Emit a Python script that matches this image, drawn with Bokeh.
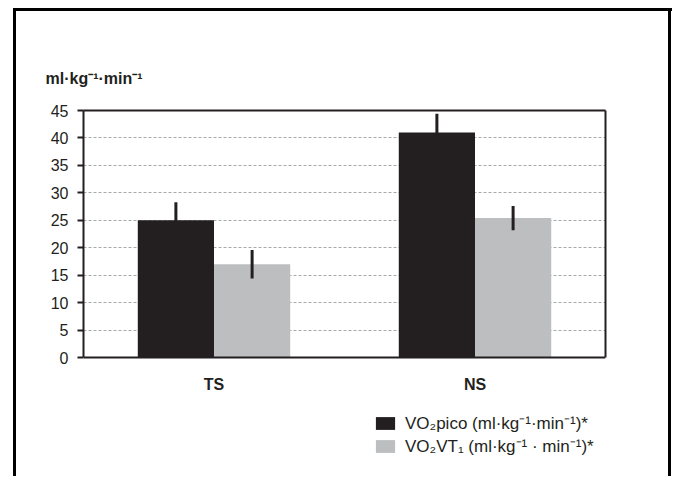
from bokeh.plotting import figure
from bokeh.models import (FactorRange, ColumnDataSource, Whisker, Legend, LegendItem,
                          FixedTicker, Range1d, CategoricalAxis, LinearAxis)
from bokeh.transform import dodge
from bokeh.embed import file_html
from bokeh.resources import INLINE

# ---- data ----
groups = ["TS", "NS"]
vo2_pico = [25.0, 41.0]
vo2_pico_err = [3.3, 3.4]
vo2_vt1 = [17.0, 25.4]
vo2_vt1_err = [2.6, 2.2]
y_ticks = [0, 5, 10, 15, 20, 25, 30, 35, 40, 45]
y_unit_label = "ml·kg⁻¹·min⁻¹"
series_names = ["VO₂pico (ml·kg⁻¹·min⁻¹)*", "VO₂VT₁ (ml·kg⁻¹ · min⁻¹)*"]

DARK = "#231f20"
GRAY = "#bcbec0"
FONT = "Liberation Sans"

src = ColumnDataSource(dict(
    group=groups,
    pico=vo2_pico,
    pico_hi=[v + e for v, e in zip(vo2_pico, vo2_pico_err)],
    pico_lo=[v - e for v, e in zip(vo2_pico, vo2_pico_err)],
    vt=vo2_vt1,
    vt_hi=[v + e for v, e in zip(vo2_vt1, vo2_vt1_err)],
    vt_lo=[v - e for v, e in zip(vo2_vt1, vo2_vt1_err)],
))

# layout: the plotting frame runs down to near the canvas bottom so that the
# legend (under the x axis) can live inside it; axis drawn at y = 0.
W, H = 672, 476
TOP, BOTTOM = 110, 6
AXIS_PX = 247                      # pixel height of the 0..45 band
frame_h = H - TOP - BOTTOM
y_max = y_ticks[-1]
y_min = -(frame_h - AXIS_PX) * y_max / AXIS_PX

p = figure(x_range=FactorRange(*groups), y_range=Range1d(y_min, y_max),
           width=W, height=H,
           min_border_left=83, min_border_right=67, min_border_top=TOP, min_border_bottom=BOTTOM,
           output_backend="svg", toolbar_location=None,
           title=y_unit_label)

# outer frame (left, top, right edges) painted behind a transparent canvas border
p.border_fill_alpha = 0
p.background_fill_color = "white"
p.styles = {
    "background": ("linear-gradient(#000,#000) 13px 8px / 3px 480px no-repeat, "
                   "linear-gradient(#000,#000) 13px 8px / 659px 3px no-repeat, "
                   "linear-gradient(#000,#000) 668px 8px / 3px 480px no-repeat, white"),
}
p.outline_line_color = None

off = 0.146
bw = 0.292
r1 = p.vbar(x=dodge("group", -off, range=p.x_range), top="pico", width=bw, source=src,
            fill_color=DARK, line_color=None)
r2 = p.vbar(x=dodge("group", off, range=p.x_range), top="vt", width=bw, source=src,
            fill_color=GRAY, line_color=None)

for base, hi, lo in [(dodge("group", -off, range=p.x_range), "pico_hi", "pico_lo"),
                     (dodge("group", off, range=p.x_range), "vt_hi", "vt_lo")]:
    w = Whisker(base=base, upper=hi, lower=lo, source=src, line_color=DARK, line_width=3,
                upper_head=None, lower_head=None, level="annotation")
    p.add_layout(w)

# title = unit label above the y axis
p.title.align = "left"
p.title.offset = -38
p.title.standoff = 35
p.title.text_font = FONT
p.title.text_font_style = "bold"
p.title.text_font_size = "16px"
p.title.text_color = DARK

# y axis (left)
p.yaxis.ticker = FixedTicker(ticks=y_ticks)
p.yaxis.bounds = (0, y_max)
p.yaxis.axis_line_color = DARK
p.yaxis.axis_line_width = 2
p.yaxis.major_tick_line_color = DARK
p.yaxis.major_tick_line_width = 2
p.yaxis.major_tick_out = 6
p.yaxis.major_tick_in = 0
p.yaxis.minor_tick_line_color = None
p.yaxis.major_label_text_font = FONT
p.yaxis.major_label_text_font_size = "16px"
p.yaxis.major_label_text_color = DARK
p.yaxis.major_label_standoff = 9

# x axis at y = 0
p.xaxis.fixed_location = 0
p.xaxis.axis_line_color = DARK
p.xaxis.axis_line_width = 2
p.xaxis.major_tick_line_color = None
p.xaxis.minor_tick_line_color = None
p.xaxis.major_label_text_font = FONT
p.xaxis.major_label_text_font_style = "bold"
p.xaxis.major_label_text_font_size = "16px"
p.xaxis.major_label_text_color = DARK
p.xaxis.major_label_standoff = 12

# box edges at the top (y = 45) and right
top_axis = CategoricalAxis(axis_line_color=DARK, axis_line_width=2,
                           major_tick_line_color=None, minor_tick_line_color=None,
                           major_label_text_font_size="0px", major_label_text_color=None)
p.add_layout(top_axis, "above")
right_axis = LinearAxis(bounds=(0, y_max), ticker=FixedTicker(ticks=y_ticks),
                        axis_line_color=DARK, axis_line_width=2,
                        major_tick_line_color=None, minor_tick_line_color=None,
                        major_label_text_font_size="0px", major_label_text_color=None)
p.add_layout(right_axis, "right")

p.xgrid.grid_line_color = None
p.ygrid.ticker = FixedTicker(ticks=y_ticks)
p.ygrid.grid_line_color = "#a7a9ac"
p.ygrid.grid_line_dash = "3 2"
p.ygrid.grid_line_width = 1

# legend under the axis, inside the (extended) frame
legend = Legend(items=[LegendItem(label=series_names[0], renderers=[r1]),
                       LegendItem(label=series_names[1], renderers=[r2])],
                location=(290, 13), orientation="vertical",
                background_fill_alpha=0, border_line_color=None,
                padding=0, margin=0, spacing=0,
                glyph_width=24, glyph_height=16, label_height=16,
                label_standoff=8, label_text_font=FONT, label_text_font_size="17px",
                label_text_color=DARK)
p.add_layout(legend, "center")

open("out.html", "w").write(file_html(p, INLINE))
